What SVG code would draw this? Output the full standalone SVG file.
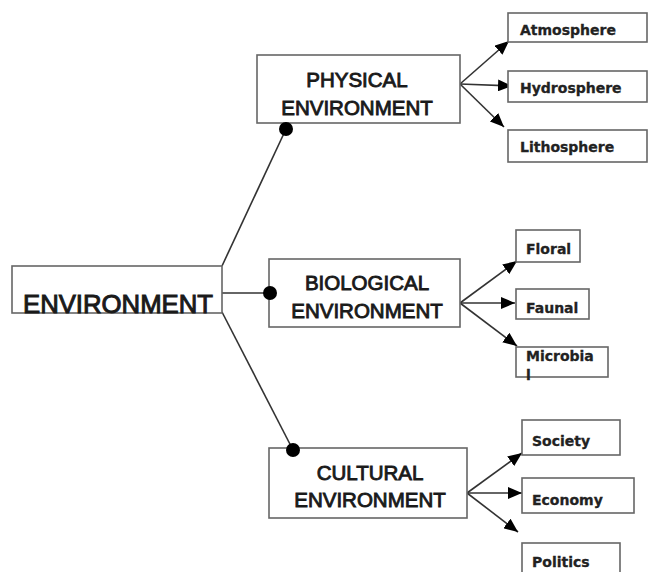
<svg xmlns="http://www.w3.org/2000/svg" width="651" height="572" viewBox="0 0 651 572">
<defs>
<marker id="arr" viewBox="0 0 14 12" refX="14" refY="6" markerWidth="14" markerHeight="12" markerUnits="userSpaceOnUse" orient="auto">
<path d="M0,0 L14,6 L0,12 Z" fill="#000"/>
</marker>
</defs>
<style>
.box{fill:#fff;stroke:#666;stroke-width:1.6}
.big{font-family:"Liberation Sans",Arial,sans-serif;font-size:20.5px;fill:#1a1a1a;stroke:#1a1a1a;stroke-width:0.9;text-anchor:middle}
.main{font-family:"Liberation Sans",Arial,sans-serif;font-size:26px;fill:#1a1a1a;stroke:#1a1a1a;stroke-width:1}
.small{font-family:"DejaVu Sans",Verdana,sans-serif;font-weight:bold;font-size:14px;fill:#222;stroke:#222;stroke-width:0.3}
.ln{fill:none;stroke:#333;stroke-width:1.6}
.arr{fill:none;stroke:#333;stroke-width:1.6;marker-end:url(#arr)}
.dot{fill:#000}
</style>
<rect width="651" height="572" fill="#fff"/>
<g id="connectors">
<line class="ln" x1="222" y1="266" x2="286" y2="129"/>
<line class="ln" x1="222" y1="293" x2="270" y2="293"/>
<line class="ln" x1="222" y1="312" x2="293" y2="450"/>
<line class="arr" x1="460" y1="84" x2="509" y2="41"/>
<line class="arr" x1="460" y1="84" x2="512" y2="86"/>
<line class="arr" x1="460" y1="84" x2="504" y2="127"/>
<line class="arr" x1="460" y1="303" x2="517" y2="261"/>
<line class="arr" x1="460" y1="303" x2="515" y2="303"/>
<line class="arr" x1="460" y1="303" x2="517" y2="346"/>
<line class="arr" x1="467" y1="493" x2="522" y2="453"/>
<line class="arr" x1="467" y1="493" x2="522" y2="493"/>
<line class="arr" x1="467" y1="493" x2="518" y2="532"/>
</g>
<g id="environment">
<rect class="box" x="12" y="266" width="210" height="47"/>
<text class="main" x="23" y="313" textLength="190" lengthAdjust="spacingAndGlyphs">ENVIRONMENT</text>
</g>
<g id="physical">
<rect class="box" x="257" y="55" width="203" height="68"/>
<text class="big" x="357" y="87">PHYSICAL</text>
<text class="big" x="357" y="115">ENVIRONMENT</text>
</g>
<g id="biological">
<rect class="box" x="269" y="259" width="191" height="68"/>
<text class="big" x="367" y="290">BIOLOGICAL</text>
<text class="big" x="367" y="318">ENVIRONMENT</text>
</g>
<g id="cultural">
<rect class="box" x="269" y="448" width="198" height="70"/>
<text class="big" x="370" y="480">CULTURAL</text>
<text class="big" x="370" y="507">ENVIRONMENT</text>
</g>
<g id="atmosphere">
<rect class="box" x="508" y="13" width="139" height="29"/>
<text class="small" x="520" y="35">Atmosphere</text>
</g>
<g id="hydrosphere">
<rect class="box" x="508" y="71" width="139" height="31"/>
<text class="small" x="520" y="93">Hydrosphere</text>
</g>
<g id="lithosphere">
<rect class="box" x="508" y="130" width="139" height="32"/>
<text class="small" x="520" y="152">Lithosphere</text>
</g>
<g id="floral">
<rect class="box" x="516" y="230" width="64" height="32"/>
<text class="small" x="526" y="254">Floral</text>
</g>
<g id="faunal">
<rect class="box" x="516" y="289" width="73" height="30"/>
<text class="small" x="526" y="313">Faunal</text>
</g>
<g id="microbial">
<rect class="box" x="516" y="347" width="92" height="30"/>
<text class="small" x="526" y="361">Microbia</text>
<text class="small" x="526" y="380">l</text>
</g>
<g id="society">
<rect class="box" x="522" y="420" width="98" height="35"/>
<text class="small" x="532" y="446">Society</text>
</g>
<g id="economy">
<rect class="box" x="522" y="478" width="112" height="35"/>
<text class="small" x="532" y="505">Economy</text>
</g>
<g id="politics">
<rect class="box" x="522" y="543" width="98" height="40"/>
<text class="small" x="532" y="567">Politics</text>
</g>
<g id="connector-dots">
<circle class="dot" cx="286" cy="129" r="7"/>
<circle class="dot" cx="270" cy="293" r="7"/>
<circle class="dot" cx="293" cy="450" r="7"/>
</g>
</svg>
